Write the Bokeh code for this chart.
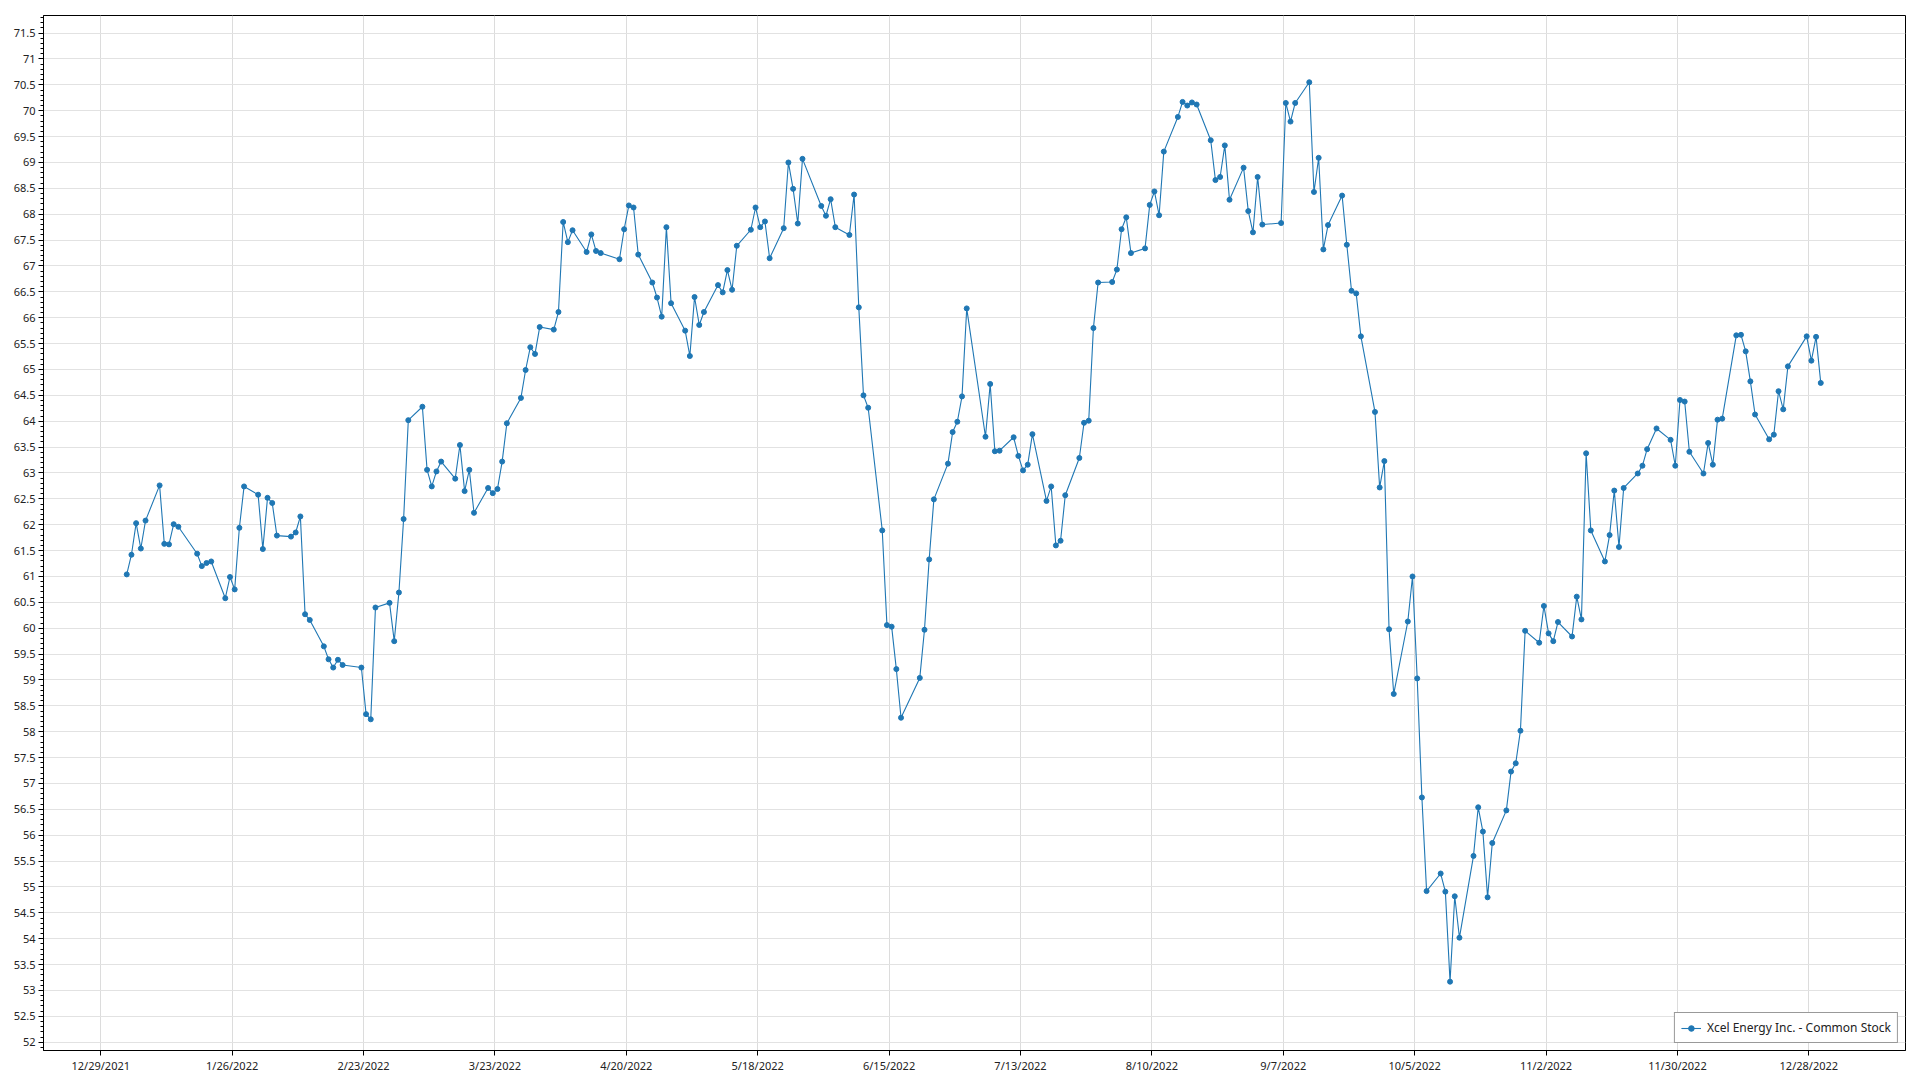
import pandas as pd
from bokeh.plotting import figure
from bokeh.models import FixedTicker, Range1d, Legend, LegendItem, ColumnDataSource
from bokeh.embed import file_html
from bokeh.resources import INLINE

series_name = "Xcel Energy Inc. - Common Stock"

# NYSE trading days of 2022 (the data has one point per trading day)
first_day = "2022-01-03"
last_day = "2022-12-30"
holidays = ["2022-01-17", "2022-02-21", "2022-04-15", "2022-05-30", "2022-06-20",
            "2022-07-04", "2022-09-05", "2022-11-24", "2022-12-26"]

jan = [61.04, 61.42, 62.03, 61.54, 62.08, 62.76, 61.63, 61.62, 62.01, 61.96,
       61.44, 61.20, 61.26, 61.29, 60.58, 60.99, 60.75, 61.94, 62.74, 62.58]
feb = [61.53, 62.52, 62.42, 61.79, 61.77, 61.85, 62.16, 60.27, 60.16, 59.65,
       59.40, 59.24, 59.39, 59.29, 59.24, 58.34, 58.24, 60.40, 60.49]
mar = [59.75, 60.69, 62.11, 64.02, 64.28, 63.06, 62.74, 63.03, 63.22, 62.89,
       63.54, 62.65, 63.06, 62.23, 62.71, 62.61, 62.69, 63.22, 63.96, 64.45,
       64.99, 65.43, 65.30]
apr = [65.82, 65.77, 66.11, 67.85, 67.46, 67.69, 67.27, 67.61, 67.29, 67.25,
       67.13, 67.71, 68.17, 68.13, 67.22, 66.68, 66.39, 66.02, 67.75, 66.28]
may = [65.75, 65.26, 66.40, 65.86, 66.11, 66.63, 66.49, 66.92, 66.54, 67.39,
       67.70, 68.13, 67.75, 67.86, 67.15, 67.73, 69.00, 68.49, 67.82, 69.07,
       68.16]
jun = [67.97, 68.29, 67.75, 67.60, 68.38, 66.20, 64.50, 64.26, 61.89, 60.06,
       60.03, 59.21, 58.27, 59.04, 59.97, 61.33, 62.49, 63.18, 63.79, 63.99,
       64.48]
jul = [66.18, 63.70, 64.72, 63.42, 63.43, 63.69, 63.33, 63.05, 63.16, 63.75,
       62.46, 62.74, 61.60, 61.69, 62.57, 63.29, 63.97, 64.01, 65.80, 66.68]
aug = [66.69, 66.93, 67.71, 67.94, 67.25, 67.34, 68.18, 68.44, 67.98, 69.21,
       69.88, 70.17, 70.10, 70.16, 70.12, 69.43, 68.66, 68.72, 69.33, 68.28,
       68.90, 68.06, 67.65]
sep = [68.72, 67.80, 67.83, 70.15, 69.79, 70.15, 70.55, 68.43, 69.09, 67.32,
       67.79, 68.36, 67.41, 66.52, 66.47, 65.64, 64.18, 62.72, 63.23, 59.98,
       58.73]
oct_ = [60.13, 61.00, 59.03, 56.73, 54.92, 55.26, 54.91, 53.17, 54.82, 54.02,
        55.60, 56.54, 56.07, 54.80, 55.85, 56.48, 57.23, 57.39, 58.02, 59.95,
        59.72]
nov = [60.43, 59.90, 59.75, 60.12, 59.84, 60.61, 60.17, 63.38, 61.89, 61.29,
       61.80, 62.66, 61.57, 62.71, 62.99, 63.14, 63.46, 63.86, 63.64, 63.14,
       64.41]
dec = [64.38, 63.41, 62.99, 63.58, 63.16, 64.03, 64.05, 65.66, 65.67, 65.35,
       64.77, 64.13, 63.65, 63.74, 64.58, 64.23, 65.06, 65.64, 65.17, 65.63,
       64.74]

x_tick_labels = ["12/29/2021", "1/26/2022", "2/23/2022", "3/23/2022", "4/20/2022",
                 "5/18/2022", "6/15/2022", "7/13/2022", "8/10/2022", "9/7/2022",
                 "10/5/2022", "11/2/2022", "11/30/2022", "12/28/2022"]
y_tick_values = [52 + 0.5 * i for i in range(40)]
y_tick_labels = [("%g" % v) for v in y_tick_values]

prices = jan + feb + mar + apr + may + jun + jul + aug + sep + oct_ + nov + dec
days = pd.bdate_range(first_day, last_day, freq="C", holidays=holidays) + pd.Timedelta(hours=13)
n = min(len(days), len(prices))
src = ColumnDataSource(dict(x=list(days[:n]), y=prices[:n]))

origin = pd.Timestamp("2021-12-29")
x_start = origin - pd.Timedelta(days=12.2)
x_end = origin + pd.Timedelta(days=384.6)

color = "#1f77b4"
p = figure(width=1912, height=1075, x_axis_type="datetime",
           output_backend="svg", toolbar_location=None,
           x_range=Range1d(x_start, x_end), y_range=Range1d(51.84, 71.84),
           min_border_left=43, min_border_right=7, min_border_top=15, min_border_bottom=20)

line = p.line("x", "y", source=src, line_color=color, line_width=1.1)
dots = p.scatter("x", "y", source=src, size=5, color=color)

x_ticks_ms = [pd.to_datetime(s, format="%m/%d/%Y").value // 10**6 for s in x_tick_labels]
p.xaxis.ticker = FixedTicker(ticks=x_ticks_ms)
p.xaxis.major_label_overrides = {t: s for t, s in zip(x_ticks_ms, x_tick_labels)}
minor_y = [round(52 + 0.1 * i, 1) for i in range(-1, 200)]
p.yaxis.ticker = FixedTicker(ticks=y_tick_values, minor_ticks=minor_y)
p.yaxis.major_label_overrides = {v: s for v, s in zip(y_tick_values, y_tick_labels)}

for ax in (p.xaxis[0], p.yaxis[0]):
    ax.axis_line_color = "black"
    ax.axis_line_width = 1
    ax.major_tick_line_color = "black"
    ax.major_tick_out = 5
    ax.major_tick_in = 0
    ax.major_label_text_font = "Noto Sans"
    ax.major_label_text_font_size = "11px"
    ax.major_label_text_color = "#222222"
p.xaxis.major_label_standoff = 2
p.xaxis.minor_tick_line_color = None
p.yaxis.minor_tick_line_color = "black"
p.yaxis.minor_tick_out = 3
p.yaxis.minor_tick_in = 0
p.yaxis.major_label_standoff = 3

p.xgrid.grid_line_color = "#dcdcdc"
p.ygrid.grid_line_color = "#e2e2e2"
p.outline_line_color = "black"
p.outline_line_width = 1
p.background_fill_color = "white"
p.border_fill_color = "white"

legend = Legend(items=[LegendItem(label=series_name, renderers=[line, dots])],
                location="bottom_right", margin=7, padding=6,
                glyph_width=20, glyph_height=14, label_height=14, label_standoff=6,
                label_text_font="Noto Sans", label_text_font_size="12px",
                label_text_color="#222222",
                border_line_color="#333333", border_line_width=1.2,
                background_fill_color="white", background_fill_alpha=1.0)
p.add_layout(legend)

open("out.html", "w").write(file_html(p, INLINE))
